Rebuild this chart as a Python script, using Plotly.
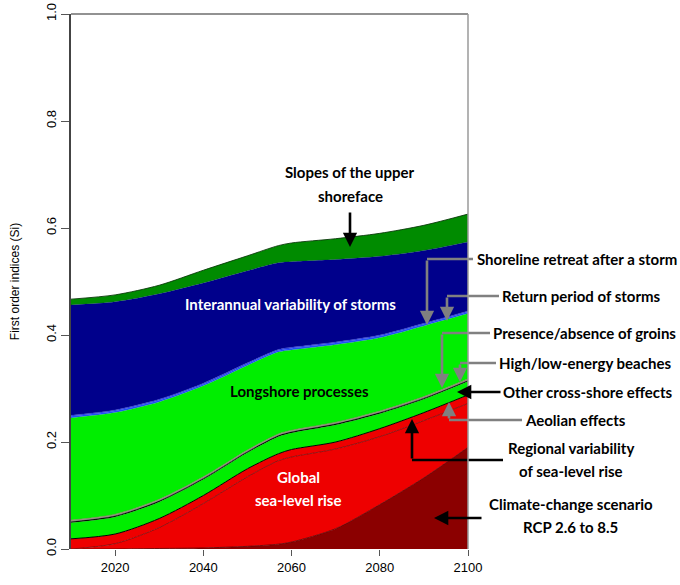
import plotly.graph_objects as go

# ---------------- data (first-order Sobol indices per factor, stacked) ----------------
years = [2010, 2020, 2030, 2040, 2050, 2057, 2060, 2070, 2080, 2090, 2100]

climate_scenario   = [0.000, 0.000, 0.001, 0.002, 0.005, 0.009, 0.013, 0.038, 0.083, 0.133, 0.190]
global_slr         = [0.000, 0.010, 0.039, 0.083, 0.130, 0.156, 0.159, 0.149, 0.127, 0.107, 0.082]
regional_slr       = [0.019, 0.018, 0.017, 0.015, 0.015, 0.013, 0.014, 0.013, 0.015, 0.015, 0.016]
aeolian            = [0.030, 0.032, 0.031, 0.030, 0.030, 0.032, 0.031, 0.032, 0.028, 0.025, 0.025]
other_crossshore   = [0.002, 0.002, 0.002, 0.002, 0.002, 0.002, 0.002, 0.002, 0.002, 0.002, 0.002]
high_low_energy    = [0.0015, 0.0015, 0.0015, 0.0015, 0.0015, 0.0015, 0.0015, 0.0015, 0.0015, 0.0015, 0.0015]
groins             = [0.0015, 0.0015, 0.0015, 0.0015, 0.0015, 0.0015, 0.0015, 0.0015, 0.0015, 0.0015, 0.0015]
longshore          = [0.191, 0.190, 0.182, 0.170, 0.158, 0.153, 0.150, 0.145, 0.137, 0.132, 0.122]
return_period      = [0.003, 0.003, 0.003, 0.003, 0.003, 0.003, 0.003, 0.003, 0.003, 0.003, 0.003]
shoreline_retreat  = [0.002, 0.002, 0.002, 0.002, 0.002, 0.002, 0.002, 0.002, 0.002, 0.002, 0.002]
interannual_storms = [0.206, 0.202, 0.197, 0.187, 0.172, 0.162, 0.160, 0.154, 0.147, 0.136, 0.129]
upper_slopes       = [0.011, 0.013, 0.016, 0.024, 0.028, 0.032, 0.035, 0.039, 0.043, 0.047, 0.052]

x_ticks = [2020, 2040, 2060, 2080, 2100]
y_ticks = [0.0, 0.2, 0.4, 0.6, 0.8, 1.0]
y_tick_labels = ["0.0", "0.2", "0.4", "0.6", "0.8", "1.0"]

layers = [
    ("Climate-change scenario", climate_scenario, "#8B0000", "#5a0000", 0.8),
    ("Global sea-level rise", global_slr, "#EE0000", "#7a0a0a", 0.8),
    ("Regional variability of sea-level rise", regional_slr, "#EE0000", "#000000", 1.0),
    ("Aeolian effects", aeolian, "#00EE00", "#00EE00", 0.3),
    ("Other cross-shore effects", other_crossshore, "#000000", "#000000", 0.6),
    ("High/low-energy beaches", high_low_energy, "#8a8a8a", "#8a8a8a", 0.6),
    ("Presence/absence of groins", groins, "#9c9a55", "#7d7a60", 0.6),
    ("Longshore processes", longshore, "#00EE00", "#00EE00", 0.3),
    ("Return period of storms", return_period, "#1f4bff", "#1f4bff", 0.3),
    ("Shoreline retreat after a storm", shoreline_retreat, "#2a3cd8", "#2a3cd8", 0.3),
    ("Interannual variability of storms", interannual_storms, "#00008B", "#00008B", 0.3),
    ("Slopes of the upper shoreface", upper_slopes, "#008B00", "#0b3a0b", 0.9),
]

fig = go.Figure()
for name, vals, fill, lc, lw in layers:
    fig.add_trace(go.Scatter(
        x=years, y=vals, name=name, stackgroup="si", mode="lines",
        line=dict(color=lc, width=lw, shape="spline", smoothing=0.8),
        fillcolor=fill, hoverinfo="skip", showlegend=False,
    ))

# --------------- layout geometry (pixels -> paper) ---------------
W, H = 680, 585
L, R, T, B = 71, 468, 14, 549


def px(x):
    return (x - L) / (R - L)


def py(y):
    return (B - y) / (B - T)


GRAY = "#808080"
FS = 15

annotations = []
shapes = []


def label(text, x, y, color="black", size=FS):
    annotations.append(dict(
        text="<b>%s</b>" % text, x=px(x), y=py(y), xref="paper", yref="paper",
        showarrow=False, xanchor="center", yanchor="middle",
        font=dict(family="Lato", size=size, color=color),
    ))


def arrow(x_tip, y_tip, x_tail, y_tail, color):
    annotations.append(dict(
        text="", x=px(x_tip), y=py(y_tip), xref="paper", yref="paper",
        ax=x_tail - x_tip, ay=y_tail - y_tip, axref="pixel", ayref="pixel",
        showarrow=True, arrowhead=2, arrowsize=1.1, arrowwidth=2.6,
        arrowcolor=color, standoff=0,
    ))


def seg(x0, y0, x1, y1, color):
    shapes.append(dict(
        type="line", xref="paper", yref="paper",
        x0=px(x0), y0=py(y0), x1=px(x1), y1=py(y1),
        line=dict(color=color, width=2.6), layer="above",
    ))


# in-plot labels
label("Slopes of the upper", 350, 172)
label("shoreface", 350, 196)
arrow(350, 247, 350, 211, "black")
label("Interannual variability of storms", 290, 304, color="white")
label("Longshore processes", 299, 391)
label("Global", 298, 477, color="white")
label("sea-level rise", 298, 500, color="white")

# right-side labels
label("Shoreline retreat after a storm", 577, 259)
seg(473, 259, 427, 259, GRAY)
arrow(427, 325, 427, 259, GRAY)

label("Return period of storms", 581, 296)
seg(499, 296, 447, 296, GRAY)
arrow(447, 321, 447, 296, GRAY)

label("Presence/absence of groins", 584, 333)
seg(490, 333, 442, 333, GRAY)
arrow(442, 388, 442, 333, GRAY)

label("High/low-energy beaches", 585, 363)
seg(496, 363, 460, 363, GRAY)
arrow(460, 382, 460, 363, GRAY)

label("Other cross-shore effects", 588, 392)
arrow(457, 392, 502, 392, "black")

label("Aeolian effects", 575, 420)
seg(522, 420, 449, 420, GRAY)
arrow(449, 402, 449, 420, GRAY)

label("Regional variability", 571, 448)
label("of sea-level rise", 571, 471)
seg(503, 460, 412, 460, "black")
arrow(412, 419, 412, 460, "black")

label("Climate-change scenario", 571, 504)
label("RCP 2.6 to 8.5", 570, 527)
arrow(434, 518, 483, 518, "black")

# box: top and right edges
shapes.append(dict(type="line", xref="paper", yref="paper", x0=0, y0=1, x1=1, y1=1,
                   line=dict(color="#6e6e6e", width=1.5), layer="above"))
shapes.append(dict(type="line", xref="paper", yref="paper", x0=1, y0=0, x1=1, y1=1,
                   line=dict(color="#9a9a9a", width=1.5), layer="above"))

fig.update_layout(
    width=W, height=H, autosize=False,
    margin=dict(l=L, r=W - R, t=T, b=H - B, pad=0),
    paper_bgcolor="white", plot_bgcolor="white",
    annotations=annotations, shapes=shapes,
    xaxis=dict(
        range=[2010, 2100], tickvals=x_ticks, ticks="outside", ticklen=6,
        tickcolor="#555555", tickwidth=1.3, showgrid=False, zeroline=False,
        showline=False, automargin=False,
        tickfont=dict(family="Liberation Sans", size=13, color="black"),
    ),
    yaxis=dict(
        range=[0, 1], tickvals=y_ticks, ticktext=y_tick_labels, tickangle=-90,
        ticks="outside", ticklen=8, tickcolor="#555555", tickwidth=1.3,
        showgrid=False, zeroline=False, showline=True, linecolor="#444444",
        linewidth=1.5, automargin=False,
        tickfont=dict(family="Liberation Sans", size=13, color="black"),
        title=dict(text="First order indices (Si)", standoff=22,
                   font=dict(family="Liberation Sans", size=12, color="black")),
    ),
)

fig.write_html("out.html", config={"displayModeBar": False},
               post_script="document.body.style.margin='0';")
